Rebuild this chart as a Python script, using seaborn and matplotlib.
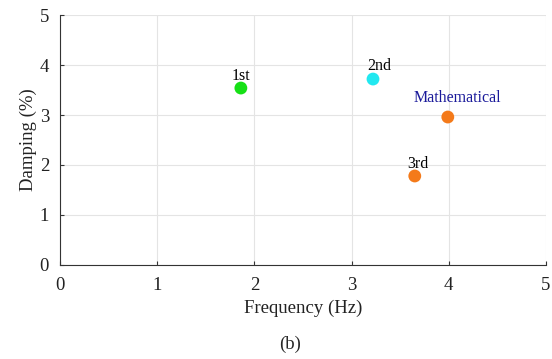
import numpy as np
import pandas as pd
import seaborn as sns
import matplotlib.pyplot as plt

# modes
modes = ["1st", "2nd", "3rd", "Mathematical"]
frequency = [1.86, 3.22, 3.65, 3.99]
damping = [3.54, 3.72, 1.78, 2.96]
colors = ["#16e016", "#22e8f0", "#f47a1a", "#f47a1a"]

df = pd.DataFrame({"mode": modes, "freq": frequency, "damp": damping})

sns.set_style("whitegrid")
plt.rcParams['font.family'] = ['Liberation Serif', 'DejaVu Serif']

fig = plt.figure(figsize=(5.52, 3.59), dpi=100)
ax = fig.add_axes([0.109, 0.262, 0.880, 0.696])

sns.scatterplot(data=df, x="freq", y="damp", hue="mode", palette=colors,
                s=85, edgecolor="none", legend=False, ax=ax)

# text labels next to the points
offsets = {"1st": (0.0, 0.24), "2nd": (0.06, 0.26), "3rd": (0.03, 0.24), "Mathematical": (0.1, 0.38)}
for m, fx, dy in zip(modes, frequency, damping):
    ox, oy = offsets[m]
    col = "#1a1a9a" if m == "Mathematical" else "black"
    ax.text(fx + ox, dy + oy, m, ha="center", va="center", fontsize=11.5, color=col)

ax.set_xlim(0, 5)
ax.set_ylim(0, 5)
ax.set_xticks(range(6))
ax.set_yticks(range(6))
ax.grid(True, color="#e4e4e4", linewidth=0.8)
for s in ["top", "right"]:
    ax.spines[s].set_visible(False)
for s in ["left", "bottom"]:
    ax.spines[s].set_color("#333333")
    ax.spines[s].set_linewidth(0.8)
ax.tick_params(direction="in", length=3, width=0.8, labelsize=13.5, colors="#333333",
               labelcolor="#222222", bottom=True, left=True)
ax.tick_params(axis="x", pad=9)
ax.tick_params(axis="y", pad=8)
ax.set_xlabel("Frequency (Hz)", fontsize=13.5, color="#222222", labelpad=4)
ax.set_ylabel("Damping (%)", fontsize=13.5, color="#222222", labelpad=2)

fig.text(0.525, 0.04, "(b)", ha="center", va="center", fontsize=13.5)

fig.savefig("out.png", dpi=100)
